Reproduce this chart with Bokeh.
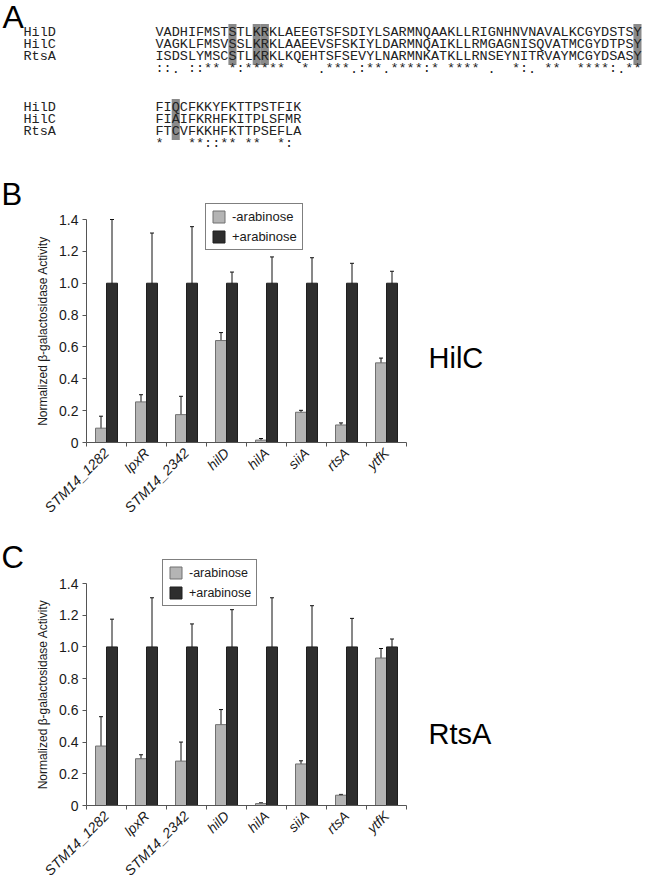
import numpy as np
from math import pi
from bokeh.plotting import figure
from bokeh.models import (Range1d, ColumnDataSource, Whisker, TeeHead, Legend, LegendItem,
                          FixedTicker, Label, PrintfTickFormatter)
from bokeh.layouts import column
from bokeh.core.properties import value
from bokeh.embed import file_html
from bokeh.resources import INLINE

# ---------------- Panel A data (alignment) ----------------
seq_names = ["HilD", "HilC", "RtsA"]
block1 = ["VADHIFMSTSTLKRKLAEEGTSFSDIYLSARMNQAAKLLRIGNHNVNAVALKCGYDSTSY",
          "VAGKLFMSVSSLKRKLAAEEVSFSKIYLDARMNQAIKLLRMGAGNISQVATMCGYDTPSY",
          "ISDSLYMSCSTLKRKLKQEHTSFSEVYLNARMNKATKLLRNSEYNITRVAYMCGYDSASY"]
cons1 = "::. ::** *:*****  * .***.:**.****:* **** .  *:. **  ****:.**"
hl1 = [10, 13, 14, 60]
block2 = ["FIQCFKKYFKTTPSTFIK",
          "FIAIFKRHFKITPLSFMR",
          "FTCVFKKHFKTTPSEFLA"]
cons2 = "*   **::** **  *: "
hl2 = [3]

# ---------------- Panels B / C data ----------------
genes = ["STM14_1282", "lpxR", "STM14_2342", "hilD", "hilA", "siiA", "rtsA", "ytfK"]
hilc_minus = [0.09, 0.255, 0.175, 0.64, 0.015, 0.19, 0.11, 0.50]
hilc_minus_err = [0.075, 0.045, 0.115, 0.05, 0.01, 0.012, 0.013, 0.03]
hilc_plus = [1.0, 1.0, 1.0, 1.0, 1.0, 1.0, 1.0, 1.0]
hilc_plus_err = [0.40, 0.315, 0.355, 0.07, 0.165, 0.16, 0.125, 0.075]
rtsa_minus = [0.375, 0.295, 0.28, 0.51, 0.012, 0.262, 0.065, 0.93]
rtsa_minus_err = [0.185, 0.025, 0.12, 0.095, 0.005, 0.02, 0.005, 0.06]
rtsa_plus = [1.0, 1.0, 1.0, 1.0, 1.0, 1.0, 1.0, 1.0]
rtsa_plus_err = [0.175, 0.31, 0.145, 0.235, 0.31, 0.26, 0.18, 0.05]
y_ticks = [0, 0.2, 0.4, 0.6, 0.8, 1.0, 1.2, 1.4]
legend_labels = ["-arabinose", "+arabinose"]
y_title = "Normalized \u03b2-galactosidase Activity"

W = 650
MONO = "Liberation Mono"
SANS = "Liberation Sans"
MONO_PX = 13.5
CH = 0.6 * MONO_PX
LIGHT = "#b4b4b4"
LIGHT_EDGE = "#707070"
DARK = "#2e2e2e"
AXIS = "#555555"


def bare_figure(width, height, x_range, y_range):
    p = figure(width=width, height=height, x_range=x_range, y_range=y_range,
               output_backend="svg", toolbar_location=None, min_border=0)
    p.min_border_left = p.min_border_right = p.min_border_top = p.min_border_bottom = 0
    p.grid.visible = False
    p.outline_line_color = None
    return p


def panel_a():
    H = 172
    p = bare_figure(W, H, Range1d(0, W), Range1d(H, 0))
    p.axis.visible = False
    name_x, seq_x = 23, 155
    p.text(x=[2], y=[16], text=["A"], text_font=value(SANS), text_font_size="32px",
           text_baseline="middle", text_color="black")
    blocks = [([32, 44, 56], 68, block1, cons1, hl1),
              ([107, 119, 131], 143, block2, cons2, hl2)]
    for rows, cy, block, cons, hl in blocks:
        p.quad(left=[seq_x + (c - 1) * CH for c in hl], right=[seq_x + c * CH for c in hl],
               top=rows[0] - 8.5, bottom=rows[-1] + 8.5, fill_color="#8a8a8a", line_color=None)
        p.text(x=[name_x] * 3, y=rows, text=seq_names, text_font=value(MONO),
               text_font_size=f"{MONO_PX}px", text_baseline="middle", text_color="#222222")
        p.text(x=[seq_x] * 3, y=rows, text=block, text_font=value(MONO),
               text_font_size=f"{MONO_PX}px", text_baseline="middle", text_color="#222222")
        cx = [seq_x + i * CH for i, ch in enumerate(cons) if ch != " "]
        ct = [ch for ch in cons if ch != " "]
        p.text(x=cx, y=[cy] * len(cx), text=ct, text_font=value(MONO),
               text_font_size=f"{MONO_PX}px", text_baseline="middle", text_color="#222222")
    return p


def bar_panel(letter, name, minus, minus_err, plus, plus_err, fig_top, fig_bottom,
              y_top_px, y_zero_px, letter_pos, legend_box, name_pos, legend_font):
    # page-pixel geometry of this panel
    x0_px, cat_px = 86, 40
    ppu = (y_zero_px - y_top_px) / (y_ticks[-1] - y_ticks[0])

    def X(px):
        return (px - x0_px) / cat_px

    def Y(py):
        return (y_zero_px - py) / ppu

    p = bare_figure(W, fig_bottom - fig_top, Range1d(X(0), X(W)),
                    Range1d(Y(fig_bottom), Y(fig_top)))

    n = len(genes)
    bw = 0.275
    idx = np.arange(n)
    src = ColumnDataSource(dict(
        gene=genes,
        xm=idx + 0.5 - bw / 2, xp=idx + 0.5 + bw / 2,
        minus=minus, plus=plus,
        m_lo=np.array(minus) - np.array(minus_err), m_hi=np.array(minus) + np.array(minus_err),
        p_lo=np.array(plus) - np.array(plus_err), p_hi=np.array(plus) + np.array(plus_err)))
    r1 = p.vbar(x="xm", top="minus", bottom=0, width=bw, source=src,
                fill_color=LIGHT, line_color=LIGHT_EDGE, line_width=1)
    r2 = p.vbar(x="xp", top="plus", bottom=0, width=bw, source=src,
                fill_color=DARK, line_color="#1e1e1e", line_width=1)
    for base, lo, hi in [("xm", "m_lo", "m_hi"), ("xp", "p_lo", "p_hi")]:
        w = Whisker(base=base, lower=lo, upper=hi, source=src, line_color="#111111",
                    line_width=1,
                    upper_head=TeeHead(size=4, line_color="#111111", line_width=1),
                    lower_head=TeeHead(size=4, line_color="#111111", line_width=1))
        p.add_layout(w)

    # y axis, pinned at x = 0
    ya = p.yaxis[0]
    ya.fixed_location = 0
    ya.bounds = (y_ticks[0], y_ticks[-1])
    ya.ticker = FixedTicker(ticks=y_ticks)
    ya.formatter = PrintfTickFormatter(format="%.1f")
    ya.major_label_overrides = {0: "0"}
    ya.major_tick_in = 0
    ya.major_tick_out = 4
    ya.minor_tick_line_color = None
    ya.axis_line_color = AXIS
    ya.major_tick_line_color = AXIS
    ya.major_label_text_font = SANS
    ya.major_label_text_font_size = "14px"
    ya.major_label_text_color = "#1a1a1a"
    ya.major_label_standoff = 4
    ya.axis_label = y_title
    ya.axis_label_text_font = SANS
    ya.axis_label_text_font_size = "12px"
    ya.axis_label_text_font_style = "normal"
    ya.axis_label_text_color = "#1a1a1a"
    ya.axis_label_standoff = 6

    # x axis, pinned at y = 0
    xa = p.xaxis[0]
    xa.fixed_location = 0
    xa.bounds = (0, n)
    centers = [i + 0.5 for i in range(n)]
    xa.ticker = FixedTicker(ticks=centers, minor_ticks=list(range(n + 1)))
    xa.major_label_overrides = {c: g for c, g in zip(centers, genes)}
    xa.major_tick_in = 0
    xa.major_tick_out = 0
    xa.minor_tick_in = 0
    xa.minor_tick_out = 4
    xa.minor_tick_line_color = AXIS
    xa.axis_line_color = AXIS
    xa.major_label_orientation = pi / 4
    xa.major_label_text_font = SANS
    xa.major_label_text_font_style = "italic"
    xa.major_label_text_font_size = "14px"
    xa.major_label_text_color = "#1a1a1a"
    xa.major_label_standoff = 4

    # legend (box given in page pixels: left, top, right, bottom)
    lx, ly_top, lx_r, ly_bot = legend_box
    leg = Legend(items=[LegendItem(label=legend_labels[0], renderers=[r1]),
                        LegendItem(label=legend_labels[1], renderers=[r2])],
                 location=(lx, fig_bottom - ly_bot), orientation="vertical",
                 border_line_color="black", border_line_width=1,
                 background_fill_color="white", background_fill_alpha=1,
                 label_text_font=SANS, label_text_font_size=legend_font,
                 label_text_color="#1a1a1a",
                 glyph_width=15, glyph_height=15, label_height=15,
                 padding=5, spacing=5, margin=0, label_standoff=6)
    p.add_layout(leg)

    p.add_layout(Label(x=X(letter_pos[0]), y=Y(letter_pos[1]), text=letter,
                       text_font=SANS, text_font_size="31px", text_color="black",
                       text_baseline="middle", text_align="left"))
    p.add_layout(Label(x=X(name_pos[0]), y=Y(name_pos[1]), text=name,
                       text_font=SANS, text_font_size="29px", text_color="black",
                       text_baseline="middle", text_align="left"))
    return p


pa = panel_a()
pb = bar_panel("B", "HilC", hilc_minus, hilc_minus_err, hilc_plus, hilc_plus_err,
               fig_top=172, fig_bottom=520, y_top_px=219, y_zero_px=442,
               letter_pos=(1, 194), legend_box=(205, 204, 303, 250), name_pos=(428, 357),
               legend_font="13px")
pc = bar_panel("C", "RtsA", rtsa_minus, rtsa_minus_err, rtsa_plus, rtsa_plus_err,
               fig_top=520, fig_bottom=884, y_top_px=583, y_zero_px=805,
               letter_pos=(1, 557), legend_box=(162, 559, 252, 606), name_pos=(428, 733),
               legend_font="12.5px")

layout = column(pa, pb, pc, spacing=0)
open("out.html", "w").write(file_html(layout, INLINE))
